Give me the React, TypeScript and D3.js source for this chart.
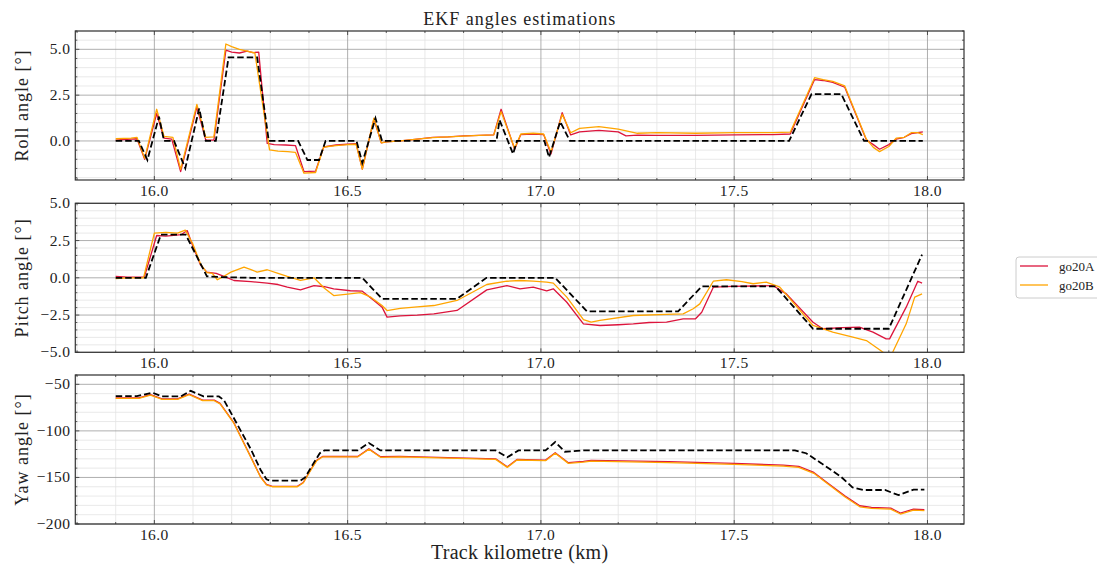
import React, { useEffect, useRef } from 'react';
import * as d3 from 'd3';

type Pt = [number, number];

// track km, angle in degrees
const rollRef: Pt[] = [[15.9,0],[15.96,0],[15.982,-1.04],[16.012,1.33],[16.025,0],[16.051,0],[16.08,-1.49],[16.116,1.78],[16.133,0],[16.159,0],[16.192,4.56],[16.266,4.56],[16.296,0],[16.372,0],[16.396,-1.04],[16.426,-1.04],[16.443,0],[16.523,0],[16.538,-1.2],[16.572,1.24],[16.589,0],[16.885,0],[16.893,1.14],[16.928,-0.71],[16.938,0],[17.009,0],[17.021,-0.89],[17.05,1.05],[17.075,0],[17.642,0],[17.7,2.56],[17.777,2.56],[17.836,0],[17.988,0]];
const rollA: Pt[] = [[15.9,0.05],[15.92,0.08],[15.94,0.1],[15.955,0.12],[15.975,-1.0],[16.006,1.5],[16.025,0.15],[16.045,0.1],[16.068,-1.67],[16.11,1.85],[16.133,0.05],[16.154,0.05],[16.185,4.95],[16.2,4.85],[16.22,4.8],[16.24,4.9],[16.255,4.82],[16.27,4.85],[16.292,-0.13],[16.31,-0.2],[16.34,-0.22],[16.365,-0.25],[16.387,-1.67],[16.417,-1.65],[16.438,-0.33],[16.47,-0.22],[16.5,-0.18],[16.522,-0.15],[16.538,-1.54],[16.568,1.2],[16.587,-0.1],[16.6,-0.05],[16.637,0.0],[16.68,0.1],[16.72,0.2],[16.76,0.22],[16.8,0.28],[16.84,0.3],[16.878,0.33],[16.897,1.73],[16.932,-0.45],[16.948,0.35],[16.98,0.38],[17.007,0.35],[17.026,-0.71],[17.055,1.54],[17.077,0.33],[17.1,0.5],[17.15,0.58],[17.2,0.5],[17.22,0.28],[17.25,0.32],[17.3,0.3],[17.4,0.3],[17.5,0.33],[17.6,0.35],[17.645,0.38],[17.708,3.35],[17.73,3.3],[17.755,3.2],[17.786,2.93],[17.842,0.05],[17.86,-0.2],[17.876,-0.45],[17.9,-0.2],[17.919,0.1],[17.94,0.2],[17.958,0.4],[17.988,0.5]];
const rollB: Pt[] = [[15.9,0.12],[15.94,0.15],[15.955,0.2],[15.975,-0.95],[16.006,1.73],[16.025,0.25],[16.048,0.2],[16.068,-1.55],[16.11,2.0],[16.133,0.2],[16.154,0.22],[16.185,5.29],[16.2,5.15],[16.22,5.0],[16.24,4.9],[16.26,4.8],[16.298,-0.49],[16.32,-0.55],[16.345,-0.58],[16.365,-0.62],[16.387,-1.76],[16.417,-1.72],[16.438,-0.33],[16.47,-0.25],[16.5,-0.2],[16.522,-0.18],[16.538,-1.54],[16.568,1.24],[16.587,-0.1],[16.6,-0.05],[16.637,0.0],[16.68,0.1],[16.72,0.18],[16.76,0.22],[16.8,0.26],[16.84,0.3],[16.878,0.33],[16.897,1.6],[16.932,-0.4],[16.948,0.38],[16.98,0.42],[17.007,0.38],[17.026,-0.6],[17.055,1.45],[17.077,0.45],[17.1,0.69],[17.15,0.78],[17.2,0.65],[17.25,0.42],[17.3,0.45],[17.4,0.42],[17.5,0.45],[17.6,0.45],[17.645,0.48],[17.708,3.45],[17.73,3.35],[17.755,3.25],[17.786,3.0],[17.842,0.1],[17.86,-0.35],[17.876,-0.58],[17.9,-0.3],[17.919,0.15],[17.94,0.2],[17.958,0.45],[17.975,0.45],[17.988,0.35]];

const pitchRef: Pt[] = [[15.9,0],[15.978,0],[16.017,2.9],[16.081,2.9],[16.136,0.1],[16.17,0.05],[16.25,0],[16.538,0],[16.589,-1.41],[16.783,-1.41],[16.859,0],[17.037,0],[17.119,-2.25],[17.355,-2.25],[17.416,-0.58],[17.607,-0.58],[17.704,-3.42],[17.9,-3.42],[17.986,1.56]];
const pitchA: Pt[] = [[15.9,0.09],[15.93,0.05],[15.974,0.05],[16.006,2.84],[16.03,2.8],[16.05,2.85],[16.07,2.9],[16.085,3.17],[16.099,2.17],[16.12,0.83],[16.136,0.38],[16.16,0.3],[16.18,0.1],[16.206,-0.18],[16.25,-0.25],[16.292,-0.36],[16.32,-0.45],[16.344,-0.63],[16.378,-0.81],[16.413,-0.52],[16.44,-0.6],[16.464,-0.74],[16.507,-0.87],[16.538,-0.9],[16.568,-1.52],[16.589,-1.97],[16.602,-2.64],[16.636,-2.55],[16.68,-2.5],[16.723,-2.42],[16.783,-2.19],[16.86,-0.81],[16.912,-0.52],[16.946,-0.74],[16.98,-0.63],[17.015,-0.87],[17.032,-0.74],[17.067,-1.64],[17.11,-3.09],[17.153,-3.2],[17.2,-3.15],[17.239,-3.09],[17.28,-3.0],[17.325,-2.97],[17.368,-2.75],[17.4,-2.75],[17.416,-2.31],[17.446,-0.63],[17.497,-0.58],[17.55,-0.55],[17.6,-0.52],[17.635,-1.08],[17.704,-2.98],[17.729,-3.42],[17.78,-3.35],[17.824,-3.31],[17.859,-3.65],[17.893,-4.1],[17.902,-4.1],[17.945,-1.97],[17.975,-0.23],[17.986,-0.36]];
const pitchB: Pt[] = [[15.9,-0.05],[15.93,0.0],[15.972,0.0],[16.0,3.0],[16.03,3.05],[16.06,3.0],[16.08,3.2],[16.099,2.3],[16.12,0.9],[16.136,0.35],[16.15,0.3],[16.163,-0.13],[16.18,0.1],[16.198,0.38],[16.232,0.71],[16.25,0.55],[16.266,0.38],[16.292,0.54],[16.32,0.3],[16.344,0.09],[16.378,-0.18],[16.413,0.0],[16.44,-0.7],[16.464,-1.19],[16.5,-1.1],[16.533,-1.0],[16.56,-1.3],[16.589,-1.86],[16.602,-2.2],[16.636,-2.05],[16.68,-1.95],[16.723,-1.86],[16.783,-1.52],[16.86,-0.45],[16.912,-0.23],[16.946,-0.18],[16.98,-0.22],[17.015,-0.29],[17.032,-0.36],[17.067,-1.3],[17.11,-2.8],[17.13,-2.98],[17.153,-2.86],[17.239,-2.53],[17.325,-2.46],[17.368,-2.42],[17.394,-2.08],[17.411,-1.75],[17.446,-0.23],[17.48,-0.13],[17.52,-0.25],[17.549,-0.4],[17.583,-0.29],[17.608,-0.52],[17.618,-0.63],[17.704,-3.2],[17.755,-3.65],[17.807,-3.98],[17.842,-4.21],[17.876,-4.83],[17.893,-5.15],[17.91,-5.0],[17.945,-3.09],[17.967,-1.3],[17.986,-1.08]];

const yawRef: Pt[] = [[15.9,-62.6],[15.955,-62.6],[15.995,-59],[16.02,-63],[16.068,-63],[16.094,-57],[16.127,-63],[16.167,-63],[16.18,-67],[16.2,-82],[16.25,-120],[16.275,-142],[16.29,-152],[16.3,-153.5],[16.378,-153.5],[16.39,-150],[16.41,-136],[16.428,-124],[16.44,-121],[16.526,-121],[16.555,-113],[16.585,-121],[16.883,-121],[16.913,-128.4],[16.942,-121],[17.012,-121],[17.037,-112],[17.062,-122.4],[17.08,-122],[17.11,-121],[17.657,-121],[17.686,-124],[17.726,-134.9],[17.776,-149.2],[17.806,-160.6],[17.835,-163.5],[17.89,-163.5],[17.925,-169],[17.964,-163],[17.992,-163]];
const yawA: Pt[] = [[15.9,-64.5],[15.96,-64.5],[15.99,-61],[16.02,-65.6],[16.06,-65.6],[16.09,-60.5],[16.125,-67],[16.155,-67],[16.17,-70.5],[16.206,-91.5],[16.249,-127.5],[16.275,-149.5],[16.29,-157.5],[16.305,-159.5],[16.37,-159.5],[16.385,-155.5],[16.405,-141.5],[16.42,-131.5],[16.435,-127.5],[16.526,-127.5],[16.555,-119.3],[16.585,-127.8],[16.635,-127.4],[16.883,-130],[16.913,-138.6],[16.938,-130.7],[17.012,-131.4],[17.037,-123.5],[17.071,-134.2],[17.11,-132.8],[17.13,-131.6],[17.33,-133.1],[17.5,-135],[17.627,-136.8],[17.667,-138.2],[17.706,-144.6],[17.746,-157.2],[17.786,-169.6],[17.825,-180.4],[17.855,-182.2],[17.905,-183],[17.93,-188.2],[17.964,-184],[17.992,-184.5]];
const yawB: Pt[] = [[15.9,-65],[15.96,-65],[15.99,-61.5],[16.02,-66.2],[16.06,-66.2],[16.09,-61],[16.125,-67.6],[16.155,-67.6],[16.17,-71],[16.206,-92],[16.249,-128],[16.275,-150],[16.29,-158],[16.305,-160],[16.37,-160],[16.385,-156],[16.405,-142],[16.42,-132],[16.435,-128],[16.526,-128],[16.555,-119.8],[16.585,-128.4],[16.635,-128],[16.883,-130.6],[16.913,-139.2],[16.938,-131.3],[17.012,-132],[17.037,-124.1],[17.071,-134.9],[17.11,-133.5],[17.13,-132.4],[17.33,-134],[17.5,-136],[17.627,-137.8],[17.667,-139.2],[17.706,-145.6],[17.746,-158.2],[17.786,-170.7],[17.825,-181.5],[17.855,-183.2],[17.905,-184],[17.93,-189.3],[17.964,-185],[17.992,-185.7]];

const xMajor = [16.0, 16.5, 17.0, 17.5, 18.0];
const seriesNames = ['go20A', 'go20B'];
const seriesColors = ['#dc143c', '#ffa500'];

const panels = [
  { label: 'Roll angle [°]', ref: rollRef, a: rollA, b: rollB, domain: [-2.13, 6.0], major: [0, 2.5, 5.0], minorStep: 0.5, fmt: '.1f' },
  { label: 'Pitch angle [°]', ref: pitchRef, a: pitchA, b: pitchB, domain: [-5, 5], major: [-5, -2.5, 0, 2.5, 5], minorStep: 0.5, fmt: '.1f' },
  { label: 'Yaw angle [°]', ref: yawRef, a: yawA, b: yawB, domain: [-200, -40], major: [-200, -150, -100, -50], minorStep: 10, fmt: 'd' },
];

const W = 1097, H = 566;
const FONT = '"Liberation Serif", "DejaVu Serif", serif';

const App = () => {
  const svgRef = useRef<SVGSVGElement>(null);

  useEffect(() => {
    const svg = d3.select(svgRef.current);
    svg.selectAll('*').remove();

    const left = 75.3, right = 964;
    const tops = [31, 203.3, 375];
    const ph = 149;

    const x = d3.scaleLinear().domain([15.7955, 18.0945]).range([left, right]);
    const xMinor = d3.range(158, 181).map(d => d / 10).filter(d => !xMajor.some(m => Math.abs(m - d) < 1e-6));

    panels.forEach((p, i) => {
      const top = tops[i], bottom = top + ph;
      const y = d3.scaleLinear().domain(p.domain).range([bottom, top]);
      const g = svg.append('g');

      const [lo, hi] = p.domain;
      const yMinor = d3.range(Math.ceil(lo / p.minorStep), Math.floor(hi / p.minorStep) + 1)
        .map(k => k * p.minorStep)
        .filter(v => !p.major.some(m => Math.abs(m - v) < 1e-6));

      // minor grid
      g.selectAll('.gx').data(xMinor).enter().append('line')
        .attr('x1', d => x(d)).attr('x2', d => x(d)).attr('y1', top).attr('y2', bottom)
        .attr('stroke', '#e3e3e3').attr('stroke-width', 0.8);
      g.selectAll('.gy').data(yMinor).enter().append('line')
        .attr('x1', left).attr('x2', right).attr('y1', d => y(d)).attr('y2', d => y(d))
        .attr('stroke', '#e3e3e3').attr('stroke-width', 0.8);
      // major grid
      g.selectAll('.Gx').data(xMajor).enter().append('line')
        .attr('x1', d => x(d)).attr('x2', d => x(d)).attr('y1', top).attr('y2', bottom)
        .attr('stroke', '#9a9a9a').attr('stroke-width', 0.8);
      g.selectAll('.Gy').data(p.major).enter().append('line')
        .attr('x1', left).attr('x2', right).attr('y1', d => y(d)).attr('y2', d => y(d))
        .attr('stroke', '#9a9a9a').attr('stroke-width', 0.8);

      // lines
      const clipId = `clip${i}`;
      svg.append('clipPath').attr('id', clipId).append('rect')
        .attr('x', left).attr('y', top).attr('width', right - left).attr('height', ph);
      const line = d3.line<Pt>().x(d => x(d[0])).y(d => y(d[1]));
      const lg = g.append('g').attr('clip-path', `url(#${clipId})`);
      lg.append('path').datum(p.a).attr('d', line).attr('fill', 'none')
        .attr('stroke', seriesColors[0]).attr('stroke-width', 1.3).attr('stroke-linejoin', 'round');
      lg.append('path').datum(p.b).attr('d', line).attr('fill', 'none')
        .attr('stroke', seriesColors[1]).attr('stroke-width', 1.3).attr('stroke-linejoin', 'round');
      lg.append('path').datum(p.ref).attr('d', line).attr('fill', 'none')
        .attr('stroke', '#000').attr('stroke-width', 1.8).attr('stroke-dasharray', '6.5,3');

      // ticks, inward on every side
      const tick = (x1, y1, x2, y2) => g.append('line')
        .attr('x1', x1).attr('y1', y1).attr('x2', x2).attr('y2', y2)
        .attr('stroke', '#333').attr('stroke-width', 0.8);
      xMajor.forEach(d => { tick(x(d), bottom, x(d), bottom - 4); tick(x(d), top, x(d), top + 4); });
      xMinor.forEach(d => { tick(x(d), bottom, x(d), bottom - 2); tick(x(d), top, x(d), top + 2); });
      p.major.forEach(d => { tick(left, y(d), left + 4, y(d)); tick(right, y(d), right - 4, y(d)); });
      yMinor.forEach(d => { tick(left, y(d), left + 2, y(d)); tick(right, y(d), right - 2, y(d)); });

      // frame
      g.append('rect').attr('x', left).attr('y', top).attr('width', right - left).attr('height', ph)
        .attr('fill', 'none').attr('stroke', '#333').attr('stroke-width', 1.2);

      // tick labels
      const fx = d3.format('.1f');
      g.selectAll('.xl').data(xMajor).enter().append('text')
        .attr('x', d => x(d)).attr('y', bottom + 16)
        .attr('text-anchor', 'middle').attr('font-family', FONT).attr('font-size', 15.5).attr('fill', '#222')
        .attr('letter-spacing', 0.4)
        .text(d => fx(d));
      const fy = d3.format(p.fmt);
      g.selectAll('.yl').data(p.major).enter().append('text')
        .attr('x', left - 5).attr('y', d => y(d) + 5)
        .attr('text-anchor', 'end').attr('font-family', FONT).attr('font-size', 15.5).attr('fill', '#222')
        .attr('letter-spacing', 0.4)
        .text(d => fy(d));

      g.append('text')
        .attr('transform', `translate(28,${(top + bottom) / 2}) rotate(-90)`)
        .attr('text-anchor', 'middle').attr('font-family', FONT).attr('font-size', 18).attr('fill', '#222')
        .attr('letter-spacing', 1)
        .text(p.label);
    });

    svg.append('text').attr('x', (left + right) / 2).attr('y', 25)
      .attr('text-anchor', 'middle').attr('font-family', FONT).attr('font-size', 18).attr('fill', '#222')
      .attr('letter-spacing', 1)
      .text('EKF angles estimations');

    svg.append('text').attr('x', (left + right) / 2).attr('y', 559)
      .attr('text-anchor', 'middle').attr('font-family', FONT).attr('font-size', 20).attr('fill', '#222')
      .attr('letter-spacing', 0.3)
      .text('Track kilometre (km)');

    // legend
    const lg = svg.append('g');
    lg.append('rect').attr('x', 1016).attr('y', 257).attr('width', 100).attr('height', 41).attr('rx', 3)
      .attr('fill', '#fff').attr('stroke', '#ccc').attr('stroke-width', 1);
    seriesNames.forEach((name, i) => {
      const yy = 266 + i * 19;
      lg.append('line').attr('x1', 1020).attr('x2', 1048).attr('y1', yy).attr('y2', yy)
        .attr('stroke', seriesColors[i]).attr('stroke-width', 1.3);
      lg.append('text').attr('x', 1059).attr('y', yy + 4.5)
        .attr('font-family', FONT).attr('font-size', 13).attr('fill', '#222').text(name);
    });
  }, []);

  return (
    <svg ref={svgRef} width={W} height={H}
      style={{ position: 'absolute', left: 0, top: 0, background: '#fff' }} />
  );
};

export default App;
